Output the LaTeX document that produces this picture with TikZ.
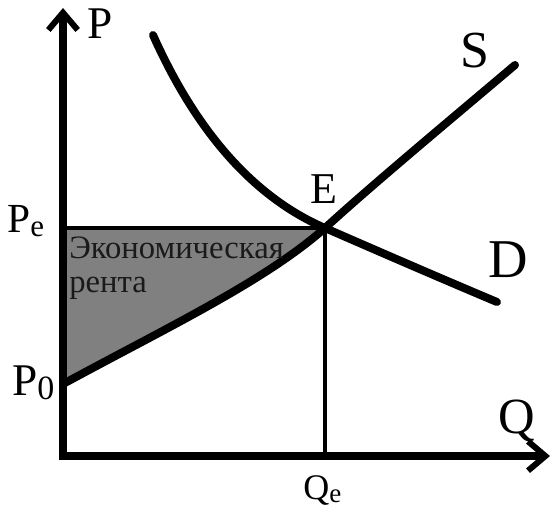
\documentclass[tikz,border=0pt]{standalone}
\usepackage{fontspec}
\setmainfont{Liberation Serif}
\usetikzlibrary{arrows.meta}
\definecolor{rentgray}{HTML}{808080}
\definecolor{rentink}{HTML}{1A1A1A}
\newcommand{\idx}[1]{\raisebox{-0.1em}{\scalebox{0.75}{#1}}}

\begin{document}
\begin{tikzpicture}[x=0.75pt, y=-0.75pt,
          ax/.style={line width=6pt, line join=miter, {Straight Barb[length=13pt, width=22pt, line width=4.5pt]}-{Straight Barb[length=13pt, width=22pt, line width=4.5pt]}},
          crv/.style={line width=6pt, line cap=round},
          thin/.style={line width=2.6pt},
          lb/.style={inner sep=0pt, anchor=base west},
          txt/.style={inner sep=0pt, anchor=base west, align=left, text=rentink, font=\fontsize{24.5}{25.5}\selectfont}]
        \useasboundingbox (0,0) rectangle (552,512);
        % points of the diagram
        \coordinate (ytop) at (63,8);
        \coordinate (o) at (63,456);
        \coordinate (xend) at (550,456);
        \coordinate (e) at (325,228);
        \coordinate (pe) at (63,228);
        \coordinate (p0) at (63,384);
        \coordinate (qe) at (325,456);
        \coordinate (s1) at (515,65);
        \coordinate (d0) at (153,35);
        \coordinate (d1) at (497,302);
        % rent area
        \fill[rentgray] (p0) .. controls (170,326) and (265,281) .. (e) -- (pe) -- cycle;
        \draw[thin] (pe) -- (e) -- (qe);
        % supply and demand
        \draw[crv] (p0) .. controls (170,326) and (265,281) .. (e) .. controls (372,185) and (450,120) .. (s1);
        \draw[crv] (d0) .. controls (200,140) and (260,200) .. (e) .. controls (380,252) and (440,278) .. (d1);
        \draw[ax] (ytop) -- (o) -- (xend);
        % labels
        \node[lb, font=\fontsize{34}{36}\selectfont] (lp) at (87,38) {P};
        \node[lb, font=\fontsize{39}{40}\selectfont] (ls) at (460,67) {S};
        \node[lb, font=\fontsize{33}{36}\selectfont] (le) at (310,203) {E};
        \node[lb, font=\fontsize{41}{42}\selectfont] (ld) at (488,277) {D};
        \node[lb, font=\fontsize{38}{40}\selectfont] (lq) at (498,433) {Q};
        \node[lb, font=\fontsize{27}{30}\selectfont] (lqe) at (303,499) {Q\idx{e}};
        \node[lb, font=\fontsize{31}{32}\selectfont] (lpe) at (7,232) {P\idx{e}};
        \node[lb, font=\fontsize{34}{36}\selectfont] (lp0) at (12,395) {P\idx{0}};
        \node[txt] (rent) at (69,292) {Экономическая\\рента};
      \end{tikzpicture}
\end{document}
